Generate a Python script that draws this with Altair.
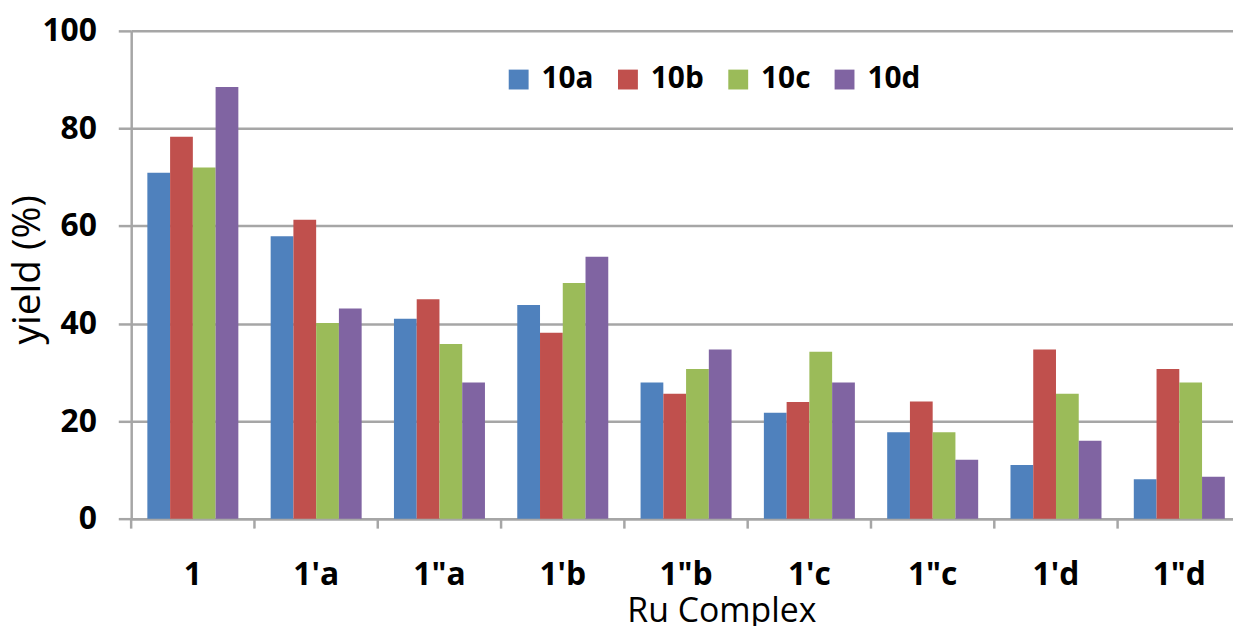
import altair as alt
import pandas as pd

categories = ["1", "1'a", '1"a', "1'b", '1"b', "1'c", '1"c', "1'd", '1"d']
series_names = ["10a", "10b", "10c", "10d"]
y_10a = [70.9, 57.9, 41.0, 43.8, 27.9, 21.7, 17.7, 11.0, 8.1]
y_10b = [78.3, 61.3, 45.0, 38.1, 25.6, 23.9, 24.0, 34.7, 30.7]
y_10c = [72.0, 40.1, 35.8, 48.3, 30.7, 34.2, 17.7, 25.6, 27.9]
y_10d = [88.5, 43.1, 27.9, 53.7, 34.7, 27.9, 12.1, 16.0, 8.6]
colors = ["#4F81BD", "#C0504D", "#9BBB59", "#8064A2"]
y_ticks = [0, 20, 40, 60, 80, 100]

rows = []
for name, vals in zip(series_names, [y_10a, y_10b, y_10c, y_10d]):
    for c, v in zip(categories, vals):
        rows.append({"complex": c, "series": name, "yield": v})
df = pd.DataFrame(rows)
df_cats = pd.DataFrame({"complex": categories})

FONT = "Open Sans"
GRID = "#A6A6A6"

x_scale = alt.Scale(domain=categories, paddingInner=0.262, paddingOuter=0.131)
x_axis = alt.Axis(
    title="Ru Complex",
    labelAngle=0,
    ticks=False,
    domainColor=GRID,
    domainWidth=2.5,
    grid=False,
    labelFont=FONT,
    labelFontSize=32,
    labelFontWeight="bold",
    labelColor="#000000",
    labelBaseline="alphabetic",
    labelPadding=66,
    titleFont=FONT,
    titleFontSize=34,
    titleFontWeight="normal",
    titleColor="#000000",
    titleX=594,
    titleY=103,
    titleBaseline="alphabetic",
    titleAlign="center",
)

bars = alt.Chart(df).mark_bar().encode(
    x=alt.X("complex:N", sort=categories, scale=x_scale, axis=x_axis),
    xOffset=alt.XOffset("series:N", sort=series_names),
    y=alt.Y(
        "yield:Q",
        scale=alt.Scale(domain=[0, 100], nice=False),
        axis=alt.Axis(
            title="yield (%)",
            values=y_ticks,
            tickSize=13,
            tickWidth=2.5,
            tickColor=GRID,
            domainColor=GRID,
            domainWidth=2.5,
            grid=True,
            gridColor=GRID,
            gridWidth=2.5,
            labelFont=FONT,
            labelFontSize=32,
            labelFontWeight="bold",
            labelColor="#000000",
            labelPadding=22,
            titleFont=FONT,
            titleFontSize=39,
            titleFontWeight="normal",
            titleColor="#000000",
            titleAngle=-90,
            titleX=-92,
            titleY=240,
            titleBaseline="alphabetic",
            titleAlign="center",
        ),
    ),
    color=alt.Color(
        "series:N",
        sort=series_names,
        scale=alt.Scale(domain=series_names, range=colors),
        legend=alt.Legend(
            title=None,
            orient="none",
            legendX=375,
            legendY=34,
            direction="horizontal",
            symbolType="square",
            symbolSize=400,
            symbolStrokeWidth=0,
            labelFont=FONT,
            labelFontSize=30,
            labelFontWeight="bold",
            labelColor="#000000",
            labelOffset=8,
            columnPadding=19,
            padding=0,
        ),
    ),
)

ticks = alt.Chart(df_cats).mark_rule(color=GRID, strokeWidth=2.5, xOffset=-16.3).encode(
    x=alt.X("complex:N", sort=categories, scale=x_scale, axis=x_axis, bandPosition=0),
    y=alt.value(491),
    y2=alt.value(501),
)

chart = alt.layer(bars, ticks).properties(
    width=1117,
    height=491,
    autosize=alt.AutoSizeParams(type="none"),
    padding={"left": 124, "top": 21, "right": -8, "bottom": 106},
).configure_view(stroke=None).configure(background="white")

chart.save("out.html", embed_options={"renderer": "svg", "actions": False})
